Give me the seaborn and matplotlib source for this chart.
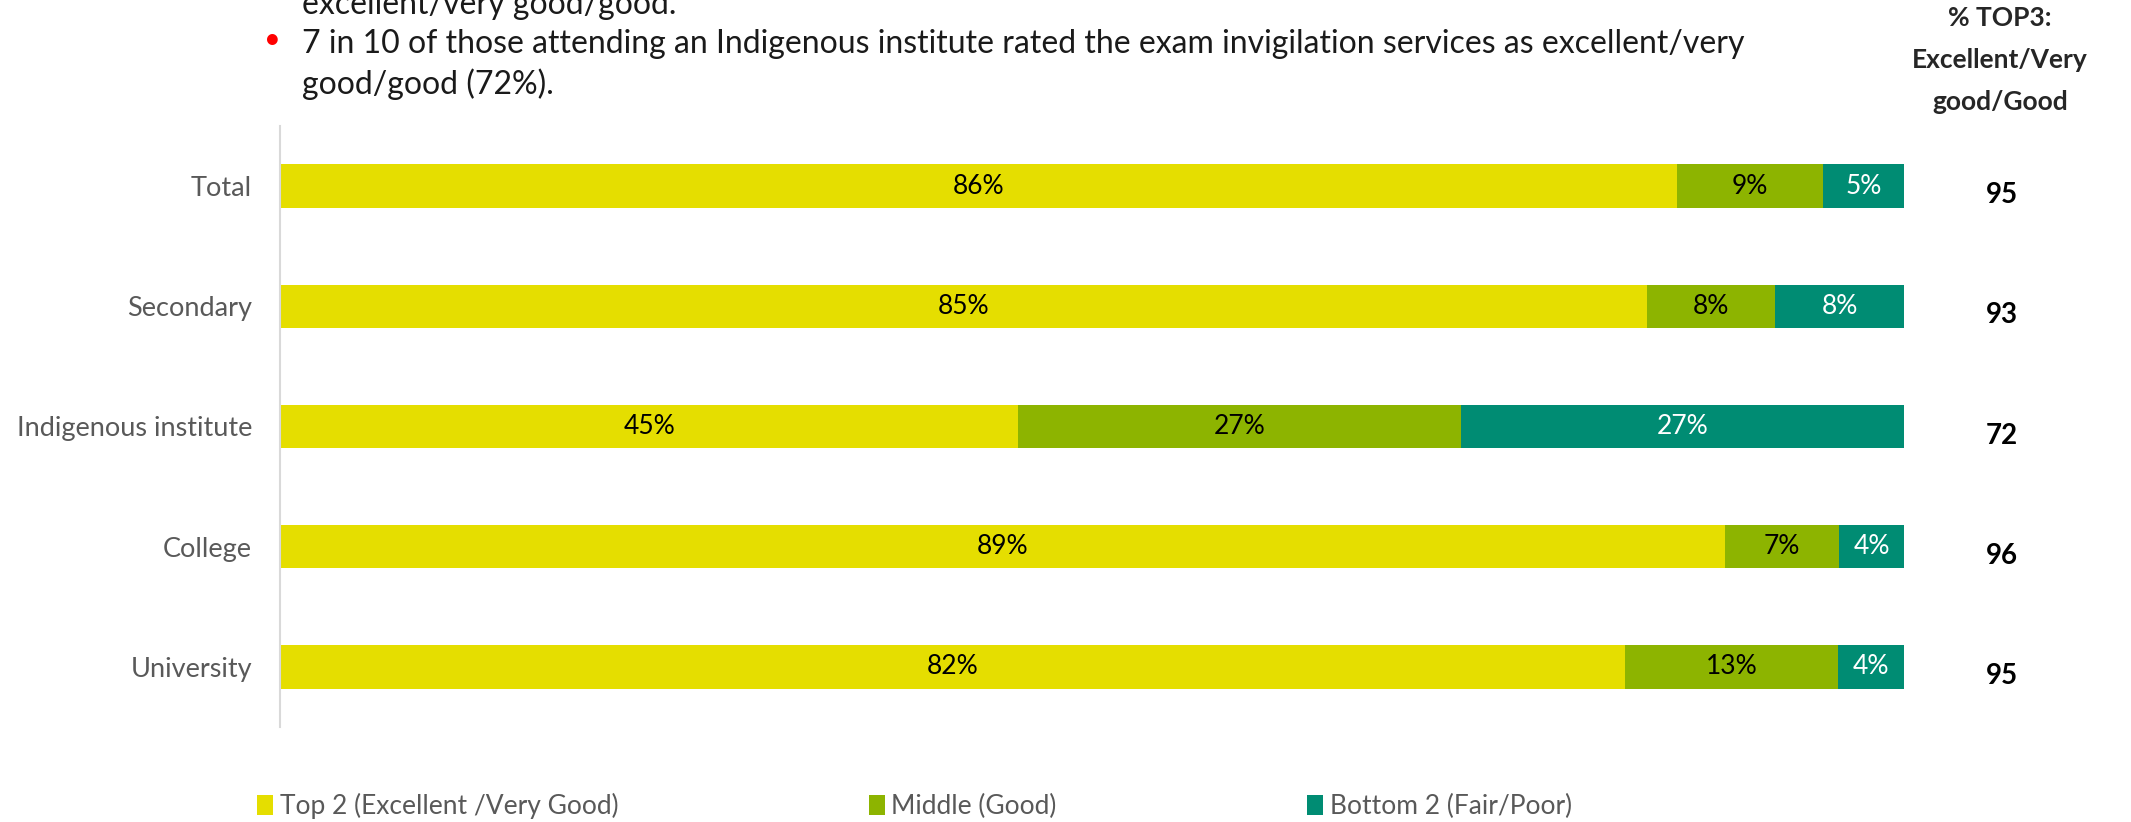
import pandas as pd
import matplotlib.pyplot as plt
import seaborn as sns
from matplotlib.patches import Patch

# Data
categories = ["Total", "Secondary", "Indigenous institute", "College", "University"]
top2 = [86, 85, 45, 89, 82]
middle = [9, 8, 27, 7, 13]
bottom2 = [5, 8, 27, 4, 4]
top3 = [95, 93, 72, 96, 95]

series_names = ["Top 2 (Excellent /Very Good)", "Middle (Good)", "Bottom 2 (Fair/Poor)"]
colors = ["#E5DE00", "#8DB400", "#008C73"]
label_colors = ["black", "black", "white"]

bullet_lines = [
    "excellent/very good/good.",
    "7 in 10 of those attending an Indigenous institute rated the exam invigilation services as excellent/very",
    "good/good (72%).",
]

sns.set_theme(style="white")
plt.rcParams['font.family'] = ['Lato', 'DejaVu Sans']

df = pd.DataFrame({"cat": categories, "top2": top2, "middle": middle, "bottom2": bottom2})
tot = df["top2"] + df["middle"] + df["bottom2"]
# bars are drawn as shares of 100%
df["s_top2"] = df["top2"] / tot * 100
df["s_mid"] = df["middle"] / tot * 100
df["s_bot"] = df["bottom2"] / tot * 100
df["cum_top2"] = df["s_top2"]
df["cum_mid"] = df["s_top2"] + df["s_mid"]
df["cum_all"] = df["cum_mid"] + df["s_bot"]

fig = plt.figure(figsize=(21.31, 8.22), dpi=100)
ax = fig.add_axes([0.1314, 0.1156, 0.7621, 0.7311])

# overlay cumulative bars, widest first
for col, c in zip(["cum_all", "cum_mid", "cum_top2"], colors[::-1]):
    sns.barplot(data=df, x=col, y="cat", color=c, saturation=1, width=0.36,
                ax=ax, linewidth=0)

# segment labels
for i, row in df.iterrows():
    starts = [0, row["cum_top2"], row["cum_mid"]]
    widths = [row["s_top2"], row["s_mid"], row["s_bot"]]
    vals = [row["top2"], row["middle"], row["bottom2"]]
    for s, w, v, tc in zip(starts, widths, vals, label_colors):
        ax.text(s + w / 2, i, f"{v}%", ha="center", va="center", fontsize=19, color=tc)

# right column: % TOP3
ytrans = ax.get_yaxis_transform()
for i, v in enumerate(top3):
    ax.text(1.06, i + 0.075, str(v), transform=ytrans, ha="center", va="center",
            fontsize=20, fontweight="bold", color="black")

fig.text(0.9385, 0.927, "% TOP3:\nExcellent/Very\ngood/Good", ha="center", va="center",
         fontsize=19, fontweight="bold", linespacing=1.9)

ax.set_xlim(0, 100)
ax.set_ylim(4.5, -0.5)
ax.set_xlabel("")
ax.set_ylabel("")
ax.set_xticks([])
ax.tick_params(axis="y", length=0, pad=20, labelsize=19.5, labelcolor="#595959")
for side in ["top", "right", "bottom"]:
    ax.spines[side].set_visible(False)
ax.spines["left"].set_color("#D9D9D9")
ax.spines["left"].set_linewidth(1.5)

# bullet text (cut off at the top in the reference)
ys = [0.994, 0.947, 0.898]
for line, y in zip(bullet_lines, ys):
    fig.text(0.1417, y, line, ha="left", va="center", fontsize=23, color="#1a1a1a")
fig.text(0.1276, 0.951, "\u2022", ha="center", va="center", fontsize=21, color="#FF0000")

handles = [Patch(facecolor=c, edgecolor="none") for c in colors]
fig.legend(handles, series_names, loc="center left", bbox_to_anchor=(0.1095, 0.0195),
           ncol=3, frameon=False, fontsize=19, handlelength=0.6, handleheight=0.8,
           handletextpad=0.25, columnspacing=9.5, labelcolor="#595959")

fig.savefig("out.png", dpi=100)
